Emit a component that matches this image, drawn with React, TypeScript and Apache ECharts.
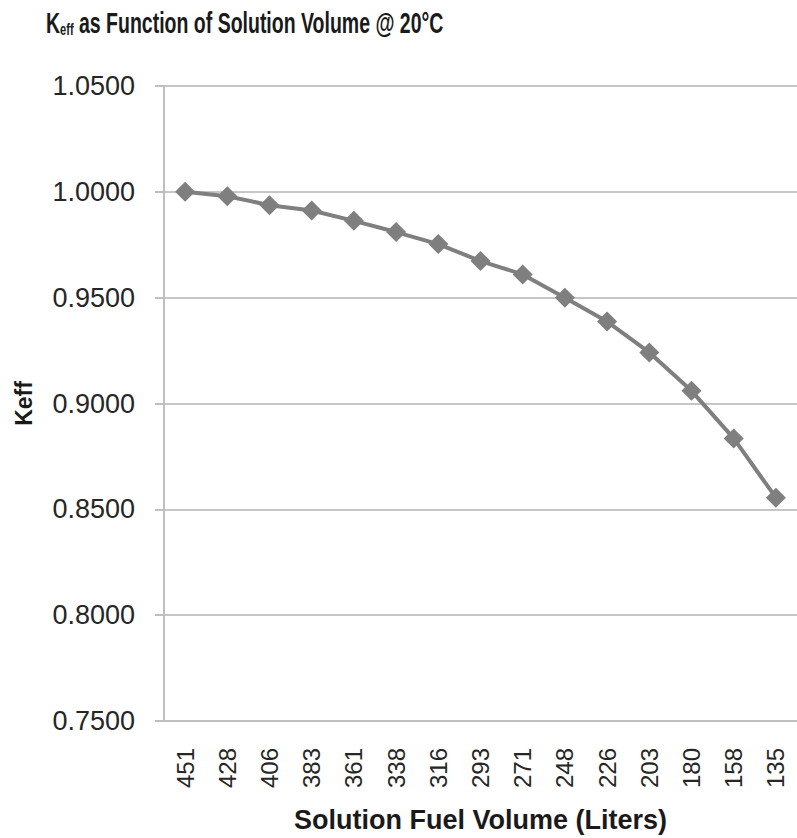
import React, { useEffect, useRef } from "react";
import * as echarts from "echarts";

const categories = ["451", "428", "406", "383", "361", "338", "316", "293", "271", "248", "226", "203", "180", "158", "135"];
const keffValues = [1.0, 0.9979, 0.9937, 0.9912, 0.9863, 0.981, 0.9753, 0.9673, 0.961, 0.95, 0.9387, 0.9241, 0.906, 0.8835, 0.8555];
const yMin = 0.75;
const yMax = 1.05;
const yStep = 0.05;

const FONT = "'Liberation Sans', Arial, sans-serif";

export default function App() {
  const ref = useRef<HTMLDivElement>(null);
  useEffect(() => {
    if (!ref.current) return;
    const chart = echarts.init(ref.current, null, { renderer: "svg" });
    chart.setOption({
      animation: false,
      backgroundColor: "#ffffff",
      graphic: [
        {
          type: "text",
          x: 46,
          y: 6,
          scaleX: 0.65,
          style: {
            text: "{a|K}{b|eff}{a| as Function of Solution Volume @ 20°C}",
            rich: {
              a: { fontFamily: FONT, fontSize: 30, fontWeight: "bold", fill: "#1a1a1a", lineHeight: 32 },
              b: { fontFamily: FONT, fontSize: 17, fontWeight: "bold", fill: "#1a1a1a", lineHeight: 17, verticalAlign: "bottom" },
            },
          },
        },
      ],
      grid: { left: 164, right: -4.5, top: 86, bottom: 115, containLabel: false },
      xAxis: {
        type: "category",
        data: categories,
        boundaryGap: true,
        name: "Solution Fuel Volume (Liters)",
        nameLocation: "middle",
        nameGap: 85,
        nameTextStyle: { fontFamily: FONT, fontSize: 27, fontWeight: "bold", color: "#1a1a1a" },
        axisLine: { lineStyle: { color: "#bfbfbf", width: 2 } },
        axisTick: { show: false },
        axisLabel: { rotate: 90, margin: 27, fontFamily: FONT, fontSize: 24, color: "#262626" },
        splitLine: { show: false },
      },
      yAxis: {
        type: "value",
        min: yMin,
        max: yMax,
        interval: yStep,
        name: "Keff",
        nameLocation: "middle",
        nameRotate: 90,
        nameGap: 129,
        nameTextStyle: { fontFamily: FONT, fontSize: 23, fontWeight: "bold", color: "#1a1a1a" },
        axisLine: { show: true, lineStyle: { color: "#bfbfbf", width: 2 } },
        axisTick: { show: true, length: 9, lineStyle: { color: "#bfbfbf", width: 2 } },
        axisLabel: {
          margin: 29,
          fontFamily: FONT,
          fontSize: 27,
          color: "#262626",
          formatter: (v: number) => v.toFixed(4),
        },
        splitLine: { show: true, lineStyle: { color: "#c6c6c6", width: 2 } },
      },
      series: [
        {
          type: "line",
          data: keffValues,
          symbol: "diamond",
          symbolSize: 20,
          lineStyle: { color: "#7f7f7f", width: 4 },
          itemStyle: { color: "#7f7f7f" },
        },
      ],
    });
    return () => chart.dispose();
  }, []);
  return <div ref={ref} style={{ position: "absolute", left: 0, top: 0, width: 797, height: 838 }} />;
}
